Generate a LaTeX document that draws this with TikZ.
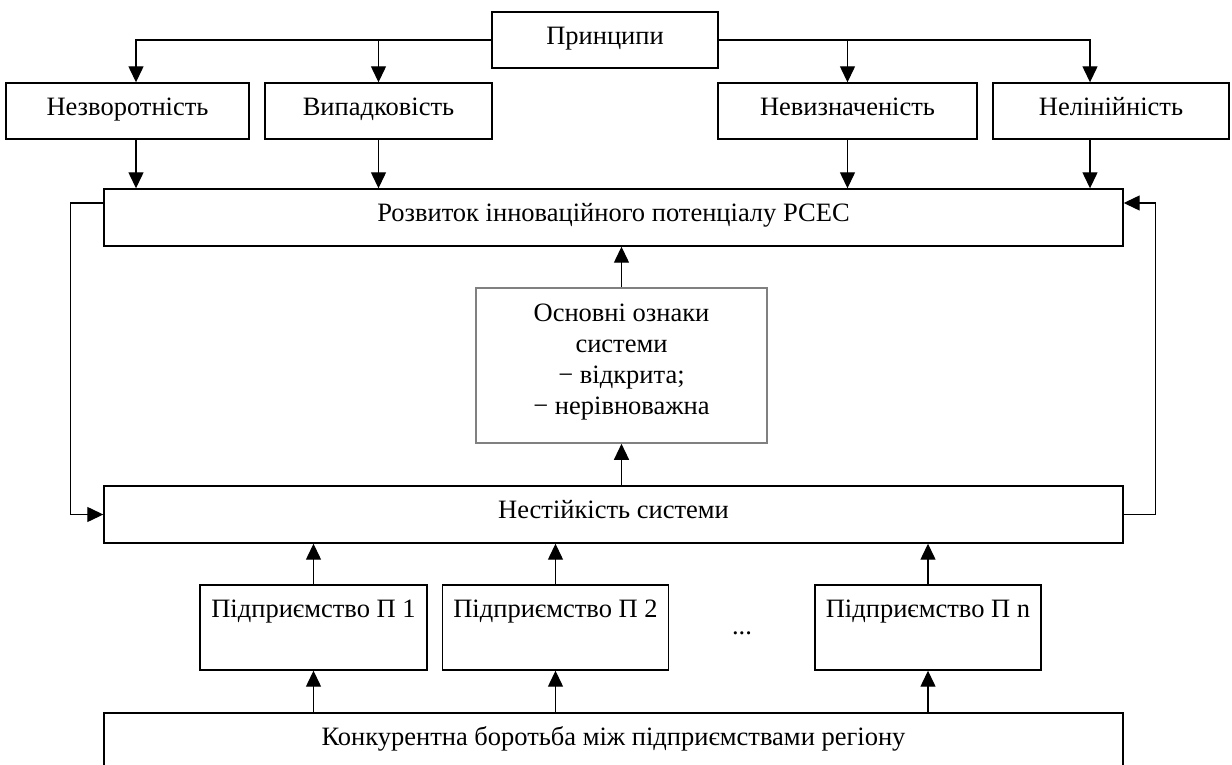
\documentclass[tikz,border=0pt]{standalone}
\usepackage{fontspec}
\setmainfont{Liberation Serif}
\usetikzlibrary{arrows.meta}
\begin{document}
\begin{tikzpicture}[x=1pt,y=-1pt,
  every node/.style={font=\fontsize{26.5}{31}\selectfont},
  box/.style={draw, line width=1.4pt, rectangle, inner sep=0pt, minimum height=56pt},
  lbl/.style={anchor=north, inner sep=0pt, yshift=-15pt, text height=18pt, text depth=6pt},
  arr/.style={line width=1.3pt, -{Triangle[length=16pt,width=15pt]}}]
\useasboundingbox (0,0) rectangle (1232,765);
% top
\node[box, minimum width=226pt, label={[lbl]north:Принципи}] (princ) at (605,40) {};
\node[box, minimum width=243pt, label={[lbl]north:Незворотність}] (n1) at (127.5,111) {};
\node[box, minimum width=227pt, label={[lbl]north:Випадковість}] (n2) at (378.5,111) {};
\node[box, minimum width=259pt, label={[lbl]north:Невизначеність}] (n3) at (847.5,111) {};
\node[box, minimum width=236pt, label={[lbl]north:Нелінійність}] (n4) at (1111,111) {};
% middle
\node[box, minimum width=1019pt, minimum height=57pt, label={[lbl]north:Розвиток інноваційного потенціалу РСЕС}] (rozv) at (613.5,217.5) {};
\node[draw=black!50, line width=1.6pt, rectangle, inner sep=0pt, minimum width=291pt, minimum height=155pt] (osn) at (621.5,365.5) {};
\node[anchor=north, inner sep=0pt, yshift=-17pt, align=center] (osntext) at (osn.north) {Основні ознаки\\системи\\ − відкрита;\\− нерівноважна};
\node[box, minimum width=1019pt, minimum height=57pt, label={[lbl]north:Нестійкість системи}] (nest) at (613.5,514.5) {};
% enterprises
\node[box, minimum width=227pt, minimum height=85pt, label={[lbl]north:Підприємство П 1}] (p1) at (313.5,627.5) {};
\node[box, minimum width=226pt, minimum height=85pt, label={[lbl]north:Підприємство П 2}] (p2) at (555.5,627.5) {};
\node[box, minimum width=226pt, minimum height=85pt, label={[lbl]north:Підприємство П n}] (pn) at (928,627.5) {};
\node[inner sep=0pt] (dots) at (742,633) {...};
\node[box, minimum width=1019pt, minimum height=94pt, label={[lbl]north:Конкурентна боротьба між підприємствами регіону}] (konk) at (613.5,760) {};
% arrows from principles
\draw[arr] (princ.west) -| ([xshift=8.5pt]n1.north);
\draw[arr] (princ.west -| n2.north) -- (n2.north);
\draw[arr] (princ.east) -| ([xshift=-21pt]n4.north);
\draw[arr] (princ.east -| n3.north) -- (n3.north);
% to rozv
\draw[arr] ([xshift=8.5pt]n1.south) -- ([xshift=8.5pt]n1.south |- rozv.north);
\draw[arr] (n2.south) -- (n2.south |- rozv.north);
\draw[arr] (n3.south) -- (n3.south |- rozv.north);
\draw[arr] ([xshift=-21pt]n4.south) -- ([xshift=-21pt]n4.south |- rozv.north);
% feedback
\draw[arr] ([yshift=14.5pt]rozv.west) -- ++(-33,0) |- (nest.west);
\draw[arr] (nest.east) -- ++(32,0) |- ([yshift=14.5pt]rozv.east);
% centre chain
\draw[arr] (nest.north -| osn.south) -- (osn.south);
\draw[arr] (osn.north) -- (osn.north |- rozv.south);
% enterprises
\draw[arr] (p1.north) -- (p1.north |- nest.south);
\draw[arr] (p2.north) -- (p2.north |- nest.south);
\draw[arr] (pn.north) -- (pn.north |- nest.south);
\draw[arr] (p1.south |- konk.north) -- (p1.south);
\draw[arr] (p2.south |- konk.north) -- (p2.south);
\draw[arr] (pn.south |- konk.north) -- (pn.south);
\end{tikzpicture}
\end{document}
